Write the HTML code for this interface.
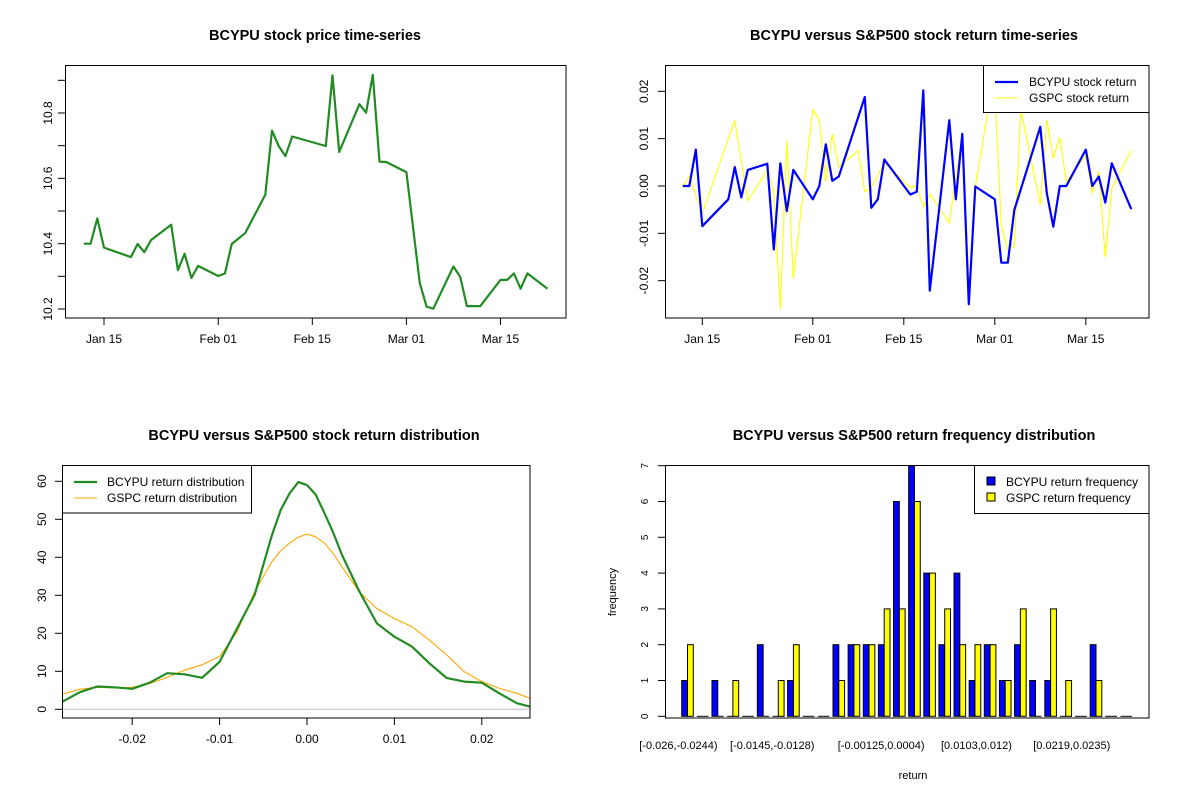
<!DOCTYPE html>
<html><head><meta charset="utf-8">
<style>
html,body{margin:0;padding:0;background:#fff;}
svg{display:block;font-family:"Liberation Sans",Arial,sans-serif;}
.t{font-weight:bold;font-size:14.5px;text-anchor:middle;}
.tk{font-size:12px;}
</style></head>
<body>
<svg id="c" width="1200" height="800" viewBox="0 0 1200 800" xmlns="http://www.w3.org/2000/svg">
<rect width="1200" height="800" fill="#fff"/>
</svg>
<script>
// ---------- Panel 1 data: price ----------
const priceDays = [-3,-2,-1,0,4,5,6,7,10,11,12,13,14,17,18,19,21,24,25,26,27,28,33,34,35,38,39,40,41,42,45,47,48,49,52,53,54,56,59,60,61,62,63,66];
const priceVals = [10.40,10.40,10.477,10.388,10.359,10.399,10.374,10.411,10.458,10.319,10.369,10.295,10.332,10.301,10.309,10.399,10.432,10.55,10.746,10.699,10.668,10.728,10.699,10.915,10.681,10.827,10.801,10.917,10.651,10.65,10.619,10.279,10.207,10.201,10.33,10.299,10.209,10.209,10.289,10.289,10.309,10.262,10.309,10.262];
const dateTicks = ["Jan 15","Feb 01","Feb 15","Mar 01","Mar 15"];
const dateTickDays = [0,17,31,45,59];
const priceTicks = [10.2,10.3,10.4,10.5,10.6,10.7,10.8,10.9];
// ---------- Panel 2 data: returns ----------
const bDays = [-3,-2,-1,0,4,5,6,7,10,11,12,13,14,17,18,19,20,21,25,26,27,28,32,33,34,35,38,39,40,41,42,45,46,47,48,52,53,54,55,56,59,60,61,62,63,66];
const bRet = [0,0,0.0077,-0.0085,-0.0028,0.004,-0.0024,0.0034,0.0047,-0.0134,0.0048,-0.0053,0.0034,-0.0028,0,0.0088,0.0011,0.002,0.0188,-0.0046,-0.0028,0.0056,-0.0018,-0.0012,0.0202,-0.0221,0.0139,-0.0028,0.0110,-0.0250,-0.0001,-0.0028,-0.0162,-0.0162,-0.0051,0.0125,-0.0015,-0.0086,0,0,0.0077,0,0.0020,-0.0035,0.0048,-0.0049];
const gDays = [-3,-2,0,5,7,10,11,12,13,14,17,18,19,20,21,24,25,26,28,32,33,34,35,38,40,41,42,44,45,46,47,48,49,52,53,54,55,56,59,60,61,62,63,66];
const gRet = [0,0.002,-0.0058,0.0139,-0.0031,0.0034,-0.0012,-0.0261,0.0097,-0.0195,0.0161,0.0139,0.0009,0.0110,0.0040,0.0075,-0.0012,-0.0003,0.0049,-0.0003,0,-0.0044,-0.0017,-0.0078,0.0110,-0.0220,-0.0001,0.0162,0.0200,-0.0082,-0.0135,-0.0128,0.0162,-0.0040,0.0140,0.0058,0.0103,0.0009,0.0065,-0.0015,0.0030,-0.0150,-0.0005,0.0075];
const retTicks = [-0.02,-0.01,0,0.01,0.02];
const retTickLabels = ["-0.02","-0.01","0.00","0.01","0.02"];
// ---------- Panel 3 data: density ----------
const densX = [-0.028,-0.026,-0.024,-0.022,-0.020,-0.018,-0.016,-0.014,-0.012,-0.010,-0.008,-0.006,-0.004,-0.003,-0.002,-0.001,0,0.001,0.002,0.003,0.004,0.006,0.008,0.010,0.012,0.014,0.016,0.018,0.020,0.022,0.024,0.0255];
const densB = [2.0,4.5,6.0,5.8,5.4,7.0,9.5,9.2,8.3,12.5,21.3,30.1,45.9,52.5,56.8,59.8,59.0,56.5,51.6,46.5,40.6,31.0,22.6,19.1,16.5,12.1,8.2,7.3,7.0,4.2,1.6,0.7];
const densG = [4.0,5.3,5.8,5.6,5.8,6.8,8.4,10.3,11.7,13.9,20.4,30.9,38.9,41.8,43.7,45.3,46.1,45.4,43.7,41.0,37.5,30.9,26.5,23.9,21.7,18.2,14.3,9.9,7.3,5.5,4.2,2.9];
const densXTicks = [-0.02,-0.01,0,0.01,0.02];
const densXLabels = ["-0.02","-0.01","0.00","0.01","0.02"];
const densYTicks = [0,10,20,30,40,50,60];
// ---------- Panel 4 data: frequency ----------
const freqB = [1,0,1,0,0,2,0,1,0,0,2,2,2,2,6,7,4,2,4,1,2,1,2,1,1,0,0,2,0,0];
const freqG = [2,0,0,1,0,0,1,2,0,0,1,2,2,3,3,6,4,3,2,2,2,1,3,0,3,1,0,1,0,0];
const freqTicks = [0,1,2,3,4,5,6,7];
const binLabels = ["[-0.026,-0.0244)","[-0.0145,-0.0128)","[-0.00125,0.0004)","[0.0103,0.012)","[0.0219,0.0235)"];
const binLabelGroup = [-0.6,5.6,12.8,19.1,25.4];

const svg = document.getElementById('c');
const NS = 'http://www.w3.org/2000/svg';
function mk(tag, attrs, parent){
  const e = document.createElementNS(NS, tag);
  for (const k in attrs) e.setAttribute(k, attrs[k]);
  (parent||svg).appendChild(e);
  return e;
}
function txt(s, attrs, parent){ const e = mk('text', attrs, parent); e.textContent = s; return e; }

// ===== Panel 1 =====
{
  const g = mk('g', {});
  
  
  const X = d => 104 + d*6.72;
  const Y = v => 309 - (v-10.2)*326.7;
  const t = txt('BCYPU stock price time-series', {x:315, y:40, class:'t'}, g);
  
  
  const pts = priceDays.map((d,i)=>X(d).toFixed(1)+','+Y(priceVals[i]).toFixed(1)).join(' ');
  const l = mk('polyline', {points:pts, fill:'none', stroke:'#228b22', 'stroke-width':2.2, 'stroke-linejoin':'round'}, g);
  
  
  const b = mk('rect', {x:65.5, y:65.5, width:500.5, height:252.5, fill:'none', stroke:'#000', 'stroke-width':1}, g);
  
  
  dateTickDays.forEach((d,i)=>{
    mk('line', {x1:X(d), x2:X(d), y1:318, y2:325, stroke:'#000'}, g);
    const tl = txt(dateTicks[i], {x:X(d), y:343, 'text-anchor':'middle', class:'tk'}, g);
    
    
  });
  priceTicks.forEach((v,i)=>{
    mk('line', {x1:58, x2:65.5, y1:Y(v), y2:Y(v), stroke:'#000'}, g);
    if (i%2===0){
      const tl = txt(v.toFixed(1), {x:0, y:0, 'text-anchor':'middle', class:'tk', transform:`translate(52,${Y(v)}) rotate(-90)`}, g);
      
      
    }
  });
}

// ===== Panel 2 =====
{
  const g = mk('g', {});
  
  
  const X = d => 702.3 + d*6.5;
  const Y = r => 186 - r*4733;
  const t = txt('BCYPU versus S&P500 stock return time-series', {x:914, y:40, class:'t'}, g);
  
  
  const cp = mk('clipPath', {id:'cp2'}, g);
  mk('rect', {x:665, y:65.5, width:484, height:252.5}, cp);
  const gp = gDays.map((d,i)=>X(d).toFixed(1)+','+Y(gRet[i]).toFixed(1)).join(' ');
  const gl = mk('polyline', {points:gp, fill:'none', stroke:'#ffff00', 'stroke-width':1.1, 'clip-path':'url(#cp2)'}, g);
  
  
  const bp = bDays.map((d,i)=>X(d).toFixed(1)+','+Y(bRet[i]).toFixed(1)).join(' ');
  const bl = mk('polyline', {points:bp, fill:'none', stroke:'#0000ff', 'stroke-width':2.2, 'stroke-linejoin':'round', 'clip-path':'url(#cp2)'}, g);
  
  
  mk('rect', {x:665.5, y:65.5, width:483.5, height:252.5, fill:'none', stroke:'#000'}, g);
  dateTickDays.forEach((d,i)=>{
    mk('line', {x1:X(d), x2:X(d), y1:318, y2:325, stroke:'#000'}, g);
    const tl = txt(dateTicks[i], {x:X(d), y:343, 'text-anchor':'middle', class:'tk'}, g);
    
    
  });
  retTicks.forEach((v,i)=>{
    mk('line', {x1:658, x2:665.5, y1:Y(v), y2:Y(v), stroke:'#000'}, g);
    const tl = txt(retTickLabels[i], {x:0, y:0, 'text-anchor':'middle', class:'tk', transform:`translate(648,${Y(v)}) rotate(-90)`}, g);
    
    
  });
  const lg = mk('g', {}, g);
  
  
  mk('rect', {x:983.5, y:65.5, width:165.5, height:47, fill:'#fff', stroke:'#000'}, lg);
  mk('line', {x1:995, x2:1018, y1:82, y2:82, stroke:'#0000ff', 'stroke-width':2.2}, lg);
  mk('line', {x1:995, x2:1018, y1:98, y2:98, stroke:'#ffff00', 'stroke-width':1}, lg);
  txt('BCYPU stock return', {x:1029, y:86, class:'tk'}, lg);
  txt('GSPC stock return', {x:1029, y:102, class:'tk'}, lg);
}

// ===== Panel 3 =====
{
  const g = mk('g', {});
  
  
  const X = x => 307 + x*8740;
  const Y = v => 709.3 - v*3.8;
  const t = txt('BCYPU versus S&P500 stock return distribution', {x:314, y:440, class:'t'}, g);
  
  
  const cp = mk('clipPath', {id:'cp3'}, g);
  mk('rect', {x:63, y:466, width:467, height:252}, cp);
  mk('line', {x1:63, x2:530, y1:Y(0), y2:Y(0), stroke:'#bebebe'}, g);
  const op = densX.map((x,i)=>X(x).toFixed(1)+','+Y(densG[i]).toFixed(1)).join(' ');
  const ol = mk('polyline', {points:op, fill:'none', stroke:'#ffa500', 'stroke-width':1.1, 'stroke-linejoin':'round', 'clip-path':'url(#cp3)'}, g);
  
  
  const gp = densX.map((x,i)=>X(x).toFixed(1)+','+Y(densB[i]).toFixed(1)).join(' ');
  const gl = mk('polyline', {points:gp, fill:'none', stroke:'#228b22', 'stroke-width':2.2, 'stroke-linejoin':'round', 'clip-path':'url(#cp3)'}, g);
  
  
  mk('rect', {x:62.5, y:465.5, width:467.5, height:252.5, fill:'none', stroke:'#000'}, g);
  densXTicks.forEach((v,i)=>{
    mk('line', {x1:X(v), x2:X(v), y1:718, y2:725, stroke:'#000'}, g);
    const tl = txt(densXLabels[i], {x:X(v), y:743, 'text-anchor':'middle', class:'tk'}, g);
    
    
  });
  densYTicks.forEach(v=>{
    mk('line', {x1:55, x2:62.5, y1:Y(v), y2:Y(v), stroke:'#000'}, g);
    const tl = txt(String(v), {x:0, y:0, 'text-anchor':'middle', class:'tk', transform:`translate(46,${Y(v)}) rotate(-90)`}, g);
    
    
  });
  const lg = mk('g', {}, g);
  
  
  mk('rect', {x:62.5, y:465.5, width:189, height:47.5, fill:'#fff', stroke:'#000'}, lg);
  mk('line', {x1:74, x2:97, y1:482, y2:482, stroke:'#228b22', 'stroke-width':2.2}, lg);
  mk('line', {x1:74, x2:97, y1:498, y2:498, stroke:'#ffa500', 'stroke-width':1}, lg);
  txt('BCYPU return distribution', {x:107, y:486, class:'tk'}, lg);
  txt('GSPC return distribution', {x:107, y:502, class:'tk'}, lg);
}

// ===== Panel 4 =====
{
  const g = mk('g', {});
  
  
  const gx = i => 681.7 + i*15.13;
  const bw = 5.8;
  const Y = v => 716.3 - v*35.8;
  const t = txt('BCYPU versus S&P500 return frequency distribution', {x:914, y:440, class:'t'}, g);
  
  
  mk('rect', {x:665.5, y:465.5, width:483.5, height:252.5, fill:'none', stroke:'#000'}, g);
  function bar(x, v, color, name){
    if (v > 0){
      const r = mk('rect', {x:x, y:Y(v), width:bw, height:Y(0)-Y(v), fill:color, stroke:'#000', 'stroke-width':1}, g);
      
      
    } else {
      const r = mk('line', {x1:x, x2:x+bw, y1:Y(0), y2:Y(0), stroke:'#000', 'stroke-width':1}, g);
      
      
    }
  }
  freqB.forEach((v,i)=>bar(gx(i), v, '#0000ff', 'bcypu-freq-bar'));
  freqG.forEach((v,i)=>bar(gx(i)+bw, v, '#ffff00', 'gspc-freq-bar'));
  freqTicks.forEach(v=>{
    mk('line', {x1:658, x2:665.5, y1:Y(v), y2:Y(v), stroke:'#000'}, g);
    const tl = txt(String(v), {x:0, y:0, 'text-anchor':'middle', 'font-size':'10px', transform:`translate(648,${Y(v)}) rotate(-90)`}, g);
    
    
  });
  binLabels.forEach((s,i)=>{
    const tl = txt(s, {x:gx(binLabelGroup[i])+bw, y:749, 'text-anchor':'middle', 'font-size':'11px'}, g);
    
    
  });
  const xl = txt('return', {x:913, y:779, 'text-anchor':'middle', 'font-size':'11px'}, g);
  
  
  const yl = txt('frequency', {x:0, y:0, 'text-anchor':'middle', 'font-size':'11px', transform:'translate(616,592) rotate(-90)'}, g);
  
  
  const lg = mk('g', {}, g);
  
  
  mk('rect', {x:974.5, y:465.5, width:174.5, height:48, fill:'#fff', stroke:'#000'}, lg);
  mk('rect', {x:987, y:477, width:8, height:8, fill:'#0000ff', stroke:'#000'}, lg);
  mk('rect', {x:987, y:493, width:8, height:8, fill:'#ffff00', stroke:'#000'}, lg);
  txt('BCYPU return frequency', {x:1006, y:486, class:'tk'}, lg);
  txt('GSPC return frequency', {x:1006, y:502, class:'tk'}, lg);
}
</script>
</body></html>
